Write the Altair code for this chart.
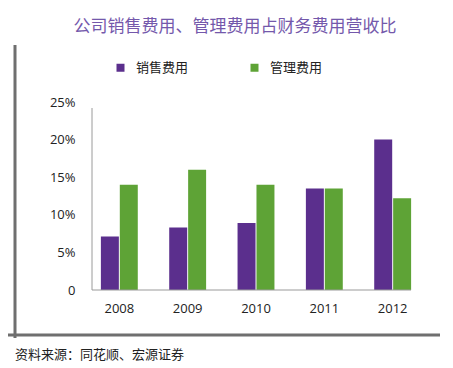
import altair as alt
import pandas as pd

years = ["2008", "2009", "2010", "2011", "2012"]
series_names = ["销售费用", "管理费用"]
sales = [7.1, 8.3, 8.9, 13.5, 20.0]
mgmt = [14.0, 16.0, 14.0, 13.5, 12.2]
colors = ["#5b2f8d", "#5ea336"]
title_text = "公司销售费用、管理费用占财务费用营收比"
source_text = "资料来源：同花顺、宏源证券"

rows = []
for y, s, m in zip(years, sales, mgmt):
    rows.append({"year": y, "series": series_names[0], "value": s / 100})
    rows.append({"year": y, "series": series_names[1], "value": m / 100})
df = pd.DataFrame(rows)
one = pd.DataFrame({"k": [0]})

W, H = 328, 188
CJK = "Noto Sans CJK SC"
NUM = "Open Sans"

bars = alt.Chart(df).mark_bar().encode(
    x=alt.X("year:N", sort=years,
            scale=alt.Scale(paddingInner=0.46, paddingOuter=0.13),
            axis=alt.Axis(title=None, labelAngle=0, ticks=False, domain=False,
                          labelFont=NUM, labelFontSize=13, labelColor="#222",
                          labelPadding=12)),
    xOffset=alt.XOffset("series:N", sort=series_names, scale=alt.Scale(paddingInner=0.05)),
    y=alt.Y("value:Q", scale=alt.Scale(domain=[0, 0.25]),
            axis=alt.Axis(title=None, values=[0, 0.05, 0.1, 0.15, 0.2, 0.25], ticks=False,
                          domain=False, grid=False,
                          labelExpr="datum.value == 0 ? '0' : format(datum.value, '.0%')",
                          labelFont=NUM, labelFontSize=13, labelColor="#222",
                          labelPadding=17)),
    color=alt.Color("series:N", sort=series_names,
                    scale=alt.Scale(domain=series_names, range=colors),
                    legend=alt.Legend(title=None, orient="none", legendX=22, legendY=-41,
                                      direction="horizontal", symbolType="square",
                                      symbolSize=64, symbolStrokeWidth=0,
                                      labelFont=CJK, labelFontSize=13, labelColor="#222",
                                      labelOffset=9, columnPadding=59)),
)

yrule = alt.Chart(one).mark_rule(color="#9a9a9a", strokeWidth=1).encode(
    x=alt.value(0), y=alt.value(6), y2=alt.value(H)
)
xrule = alt.Chart(one).mark_rule(color="#9a9a9a", strokeWidth=1).encode(
    x=alt.value(0), x2=alt.value(319), y=alt.value(H)
)

vline = alt.Chart(one).mark_rule(color="#6f6f6f", strokeWidth=3).encode(
    x=alt.value(-77), y=alt.value(-57), y2=alt.value(236)
)
hline = alt.Chart(one).mark_rule(color="#6f6f6f", strokeWidth=3).encode(
    x=alt.value(-88), x2=alt.value(356), y=alt.value(233)
)

title = alt.Chart(one).mark_text(
    text=title_text, font=CJK, fontSize=17, color="#7458ab",
    align="center", baseline="middle"
).encode(x=alt.value(143), y=alt.value(-75))

source = alt.Chart(one).mark_text(
    text=source_text, font=CJK, fontSize=13, color="#222", align="left", baseline="middle"
).encode(x=alt.value(-77), y=alt.value(253))

chart = alt.layer(bars, yrule, xrule, vline, hline, title, source).properties(
    width=W, height=H,
    background="white",
    autosize=alt.AutoSizeParams(type="none"),
    padding={"left": 84, "top": 94, "right": 20, "bottom": 72},
).configure_view(strokeWidth=0)

chart.save("out.html", embed_options={"renderer": "svg", "actions": False})
